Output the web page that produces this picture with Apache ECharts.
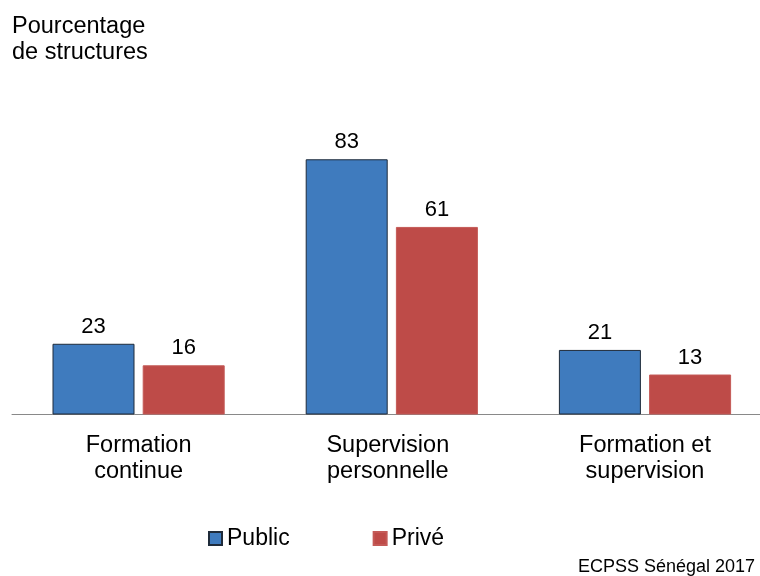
<!DOCTYPE html>
<html>
<head>
<meta charset="utf-8">
<script src="https://cdn.jsdelivr.net/npm/echarts@6/dist/echarts.min.js"></script>
<style>
html,body{margin:0;padding:0;background:#fff;}
#chart{width:760px;height:576px;}
</style>
</head>
<body>
<div id="chart"></div>
<script>
const categories = ['Formation\ncontinue', 'Supervision\npersonnelle', 'Formation et\nsupervision'];
const seriesNames = ['Public', 'Privé'];
const publicValues = [23, 83, 21];
const priveValues = [16, 61, 13];
const titleText = 'Pourcentage\nde structures';
const sourceText = 'ECPSS Sénégal 2017';

const FONT = '"Liberation Sans", Arial, sans-serif';
const chart = echarts.init(document.getElementById('chart'), null, {renderer: 'canvas'});
chart.setOption({
  animation: false,
  backgroundColor: '#ffffff',
  textStyle: {fontFamily: FONT},
  title: {
    text: titleText,
    left: 12,
    top: 14,
    padding: 0,
    textStyle: {fontFamily: FONT, fontSize: 23.5, fontWeight: 'normal', color: '#000', lineHeight: 26}
  },
  legend: {
    data: seriesNames,
    left: 208,
    top: 527,
    padding: 0,
    icon: 'rect',
    itemWidth: 13,
    itemHeight: 13,
    itemGap: 83,
    textStyle: {fontFamily: FONT, fontSize: 23, color: '#000', padding: [0, 0, 0, 0]}
  },
  graphic: [{
    type: 'text',
    left: 578,
    top: 558,
    style: {text: sourceText, font: '18px "Liberation Sans", Arial, sans-serif', fill: '#000'}
  }],
  grid: {left: 12, width: 759.6, top: 107, height: 307.5, containLabel: false, outerBoundsMode: 'none'},
  xAxis: {
    type: 'category',
    data: categories.map((c, i) => i === 1 ? {value: c, textStyle: {padding: [0, 8, 0, 0]}} : c),
    axisLine: {show: true, lineStyle: {color: '#898989', width: 1}},
    axisTick: {show: false},
    axisLabel: {fontFamily: FONT, fontSize: 23.5, color: '#000', margin: 18, lineHeight: 26, interval: 0}
  },
  yAxis: {
    type: 'value',
    min: 0,
    max: 100,
    show: false,
    splitLine: {show: false}
  },
  series: [
    {
      name: seriesNames[0],
      type: 'bar',
      data: publicValues,
      barWidth: 82,
      barGap: '10%',
      itemStyle: {color: '#3F7BBE', borderColor: '#1F2B3A', borderWidth: 1},
      label: {show: true, position: 'top', distance: 6, fontFamily: FONT, fontSize: 22, color: '#000'}
    },
    {
      name: seriesNames[1],
      type: 'bar',
      data: priveValues,
      barWidth: 82,
      barGap: '10%',
      itemStyle: {color: '#BE4B48', borderColor: '#C45A57', borderWidth: 1},
      label: {show: true, position: 'top', distance: 6, fontFamily: FONT, fontSize: 22, color: '#000'}
    }
  ]
});
</script>
</body>
</html>
